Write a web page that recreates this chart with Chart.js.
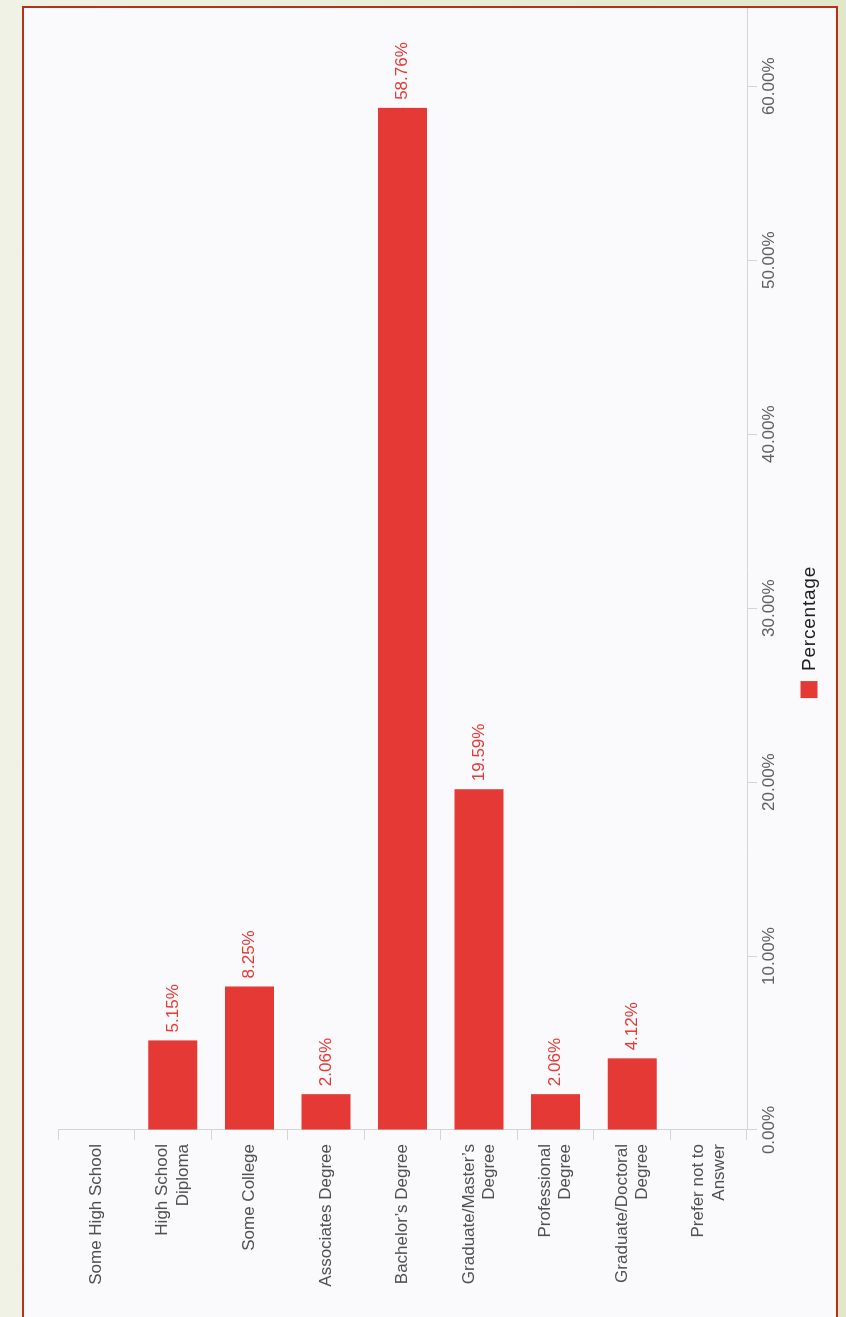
<!DOCTYPE html>
<html>
<head>
<meta charset="utf-8">
<title>Education level</title>
<script src="https://cdn.jsdelivr.net/npm/chart.js@4.4.1/dist/chart.umd.min.js"></script>
<style>
  html, body { margin: 0; padding: 0; overflow: hidden; }
  body {
    width: 846px;
    height: 1317px;
    position: relative;
    background: linear-gradient(to right, #eff2e4, #e1e8ca);
  }
  #frame {
    position: absolute;
    left: 22px;
    top: 6px;
    width: 812px;
    height: 1400px;
    border: 2px solid #b5311b;
    background: #fafafc;
  }
  /* the chart is drawn as a horizontal bar chart, then turned a quarter left */
  #turn {
    position: absolute;
    left: 0;
    top: 1309px;
    width: 1309px;
    height: 812px;
    transform-origin: 0 0;
    transform: rotate(-90deg);
  }
</style>
</head>
<body>
<div id="frame">
  <div id="turn">
    <canvas id="eduChart" width="1309" height="812"></canvas>
  </div>
</div>
<script>
"use strict";

const categories = [
  "Some High School",
  ["High School", "Diploma"],
  "Some College",
  "Associates Degree",
  "Bachelor\u2019s Degree",
  ["Graduate/Master\u2019s", "Degree"],
  ["Professional", "Degree"],
  ["Graduate/Doctoral", "Degree"],
  ["Prefer not to", "Answer"]
];
const percentages = [0, 5.15, 8.25, 2.06, 58.76, 19.59, 2.06, 4.12, 0];
const seriesName = "Percentage";
const axisMax = 64.5;
const tickStep = 10;

const barColor = "#e53935";
const axisColor = "#d4d4d4";
const fontFamily = "'Liberation Sans', Arial, sans-serif";

Chart.defaults.font.family = fontFamily;

function pct(v) {
  return Number(v).toFixed(2) + "%";
}

// value written just past the end of each bar
const barValueLabels = {
  id: "barValueLabels",
  afterDatasetsDraw(chart) {
    let c = chart.ctx;
    let meta = chart.getDatasetMeta(0);
    c.save();
    c.font = "17px " + fontFamily;
    c.fillStyle = barColor;
    c.textAlign = "left";
    c.textBaseline = "middle";
    meta.data.forEach((bar, i) => {
      if (!percentages[i]) return;
      c.fillText(pct(percentages[i]), bar.x + 8, bar.y);
    });
    c.restore();
  }
};

// single legend entry, sitting off-centre below the value axis
const sideLegend = {
  id: "sideLegend",
  afterDraw(chart) {
    let c = chart.ctx;
    let box = 17;
    let gap = 10;
    c.save();
    c.font = "19px " + fontFamily;
    c.letterSpacing = "0.8px";
    let textW = c.measureText(seriesName).width;
    let left = 685 - (box + gap + textW) / 2;
    let mid = chart.chartArea.bottom + 62;
    c.fillStyle = barColor;
    c.fillRect(left, mid - box / 2, box, box);
    c.fillStyle = "#1e1e1e";
    c.textAlign = "left";
    c.textBaseline = "middle";
    c.fillText(seriesName, left + box + gap, mid + 1);
    c.restore();
  }
};

function makeChart() {
  let ctx = document.getElementById("eduChart");
  new Chart(ctx, {
    type: "bar",
    data: {
      labels: categories,
      datasets: [{
        label: seriesName,
        data: percentages,
        backgroundColor: barColor,
        borderWidth: 0,
        categoryPercentage: 0.8,
        barPercentage: 0.8
      }]
    },
    options: {
      indexAxis: "y",
      responsive: false,
      animation: false,
      layout: { padding: { top: 34, right: 0, bottom: 0, left: 0 } },
      plugins: {
        legend: { display: false },
        tooltip: { enabled: false }
      },
      scales: {
        x: {
          min: 0,
          max: axisMax,
          border: { color: axisColor },
          grid: { drawOnChartArea: false, color: axisColor, tickLength: 10 },
          ticks: {
            stepSize: tickStep,
            includeBounds: false,
            padding: 2,
            color: "#606060",
            font: { size: 17 },
            callback: v => pct(v)
          },
          afterFit: scale => { scale.height = 89; }
        },
        y: {
          border: { color: axisColor },
          grid: { drawOnChartArea: false, color: axisColor, tickLength: 10 },
          ticks: {
            padding: 4,
            color: "#505050",
            font: { size: 17 }
          },
          afterFit: scale => { scale.width = 187; }
        }
      }
    },
    plugins: [barValueLabels, sideLegend]
  });
}

makeChart();
</script>
</body>
</html>
